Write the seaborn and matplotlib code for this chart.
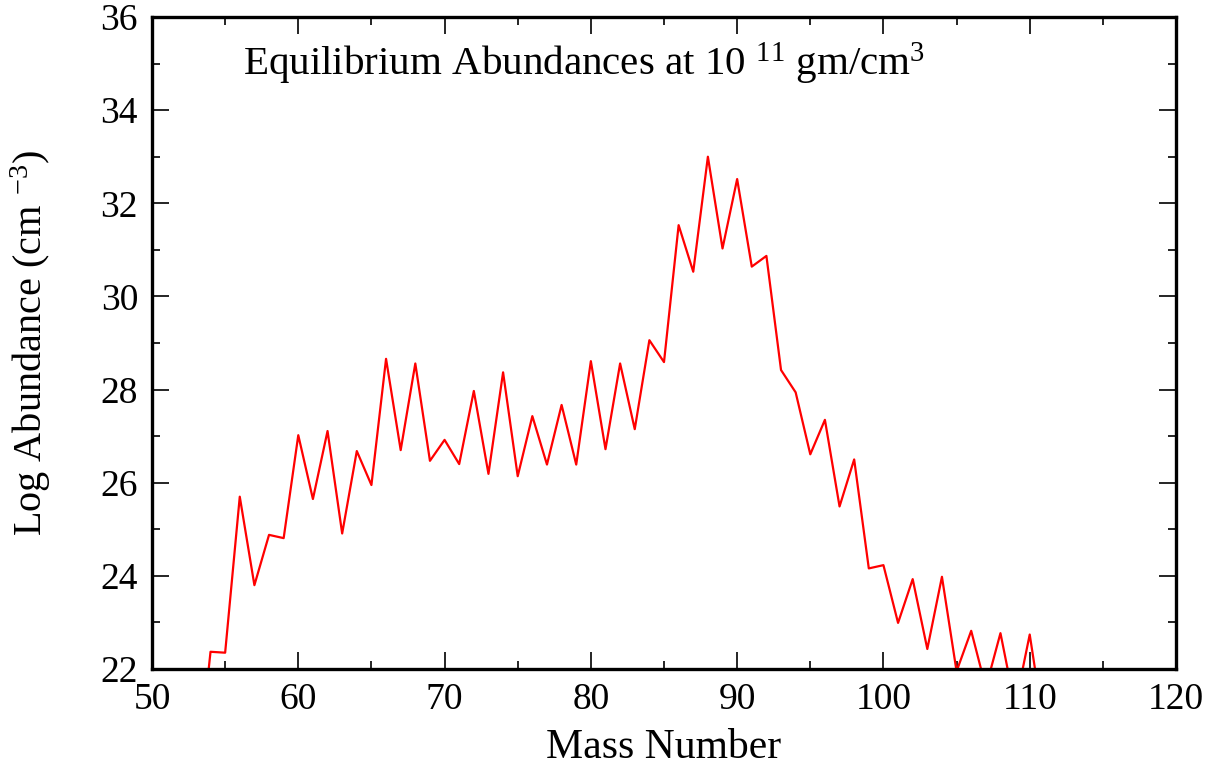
import matplotlib
matplotlib.use("Agg")
import matplotlib.pyplot as plt
import seaborn as sns
import pandas as pd
from matplotlib.ticker import MultipleLocator

mass_number = list(range(53, 112))
log_abundance = [
    19.4, 22.37, 22.35, 25.70, 23.80, 24.88, 24.81, 27.02, 25.65, 27.11,
    24.91, 26.68, 25.95, 28.66, 26.70, 28.56, 26.47, 26.92, 26.40, 27.97,
    26.19, 28.37, 26.14, 27.43, 26.39, 27.67, 26.39, 28.61, 26.72, 28.56,
    27.15, 29.06, 28.59, 31.53, 30.53, 33.00, 31.03, 32.52, 30.64, 30.87,
    28.42, 27.94, 26.61, 27.35, 25.49, 26.50, 24.16, 24.23, 22.99, 23.93,
    22.43, 23.98, 21.95, 22.82, 21.60, 22.77, 21.20, 22.74, 20.70,
]

x_ticks = [50, 60, 70, 80, 90, 100, 110, 120]
y_ticks = [22, 24, 26, 28, 30, 32, 34, 36]

sns.set_theme(style="white")
plt.rcParams["font.family"] = ["Liberation Serif", "DejaVu Serif"]
plt.rcParams["mathtext.fontset"] = "custom"
plt.rcParams["mathtext.rm"] = "Liberation Serif"
plt.rcParams["mathtext.it"] = "Liberation Serif:italic"
plt.rcParams["text.color"] = "black"
plt.rcParams["axes.labelcolor"] = "black"

df = pd.DataFrame({"Mass Number": mass_number, "Log Abundance": log_abundance})

fig = plt.figure(figsize=(12.07, 7.67), dpi=100)
ax = fig.add_axes([152 / 1207, 1 - 669 / 767, (1176 - 152) / 1207, (669 - 17) / 767])

sns.lineplot(data=df, x="Mass Number", y="Log Abundance", ax=ax,
             color="#ff0000", linewidth=1.6)

ax.set_xlim(50, 120)
ax.set_ylim(22, 36)
ax.set_xticks(x_ticks)
ax.set_yticks(y_ticks)
ax.set_xticklabels([str(t) for t in x_ticks])
ax.set_yticklabels([str(t) for t in y_ticks])
ax.xaxis.set_minor_locator(MultipleLocator(5))
ax.yaxis.set_minor_locator(MultipleLocator(1))
ax.tick_params(which="both", direction="in", top=True, right=True,
               bottom=True, left=True, colors="black", labelcolor="black",
               labelsize=27, width=1.2)
ax.tick_params(which="major", length=12, pad=10)
ax.tick_params(which="minor", length=6)
for s in ax.spines.values():
    s.set_color("black")
    s.set_linewidth(2.4)

ax.set_xlabel("Mass Number", fontsize=30, labelpad=8, color="black")
ax.set_ylabel("Log Abundance (cm $^{\\mathregular{-3}}$)", fontsize=29,
              labelpad=34, color="black")

ax.text(56.2, 35.0, "Equilibrium Abundances at 10 $^{\\mathregular{11}}$ gm/cm$^{\\mathregular{3}}$",
        fontsize=29.5, va="center", ha="left", color="black")

fig.savefig("out.png", dpi=100)
